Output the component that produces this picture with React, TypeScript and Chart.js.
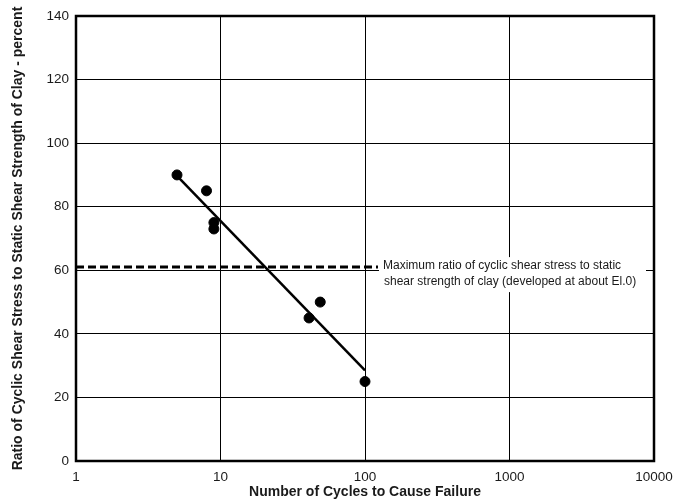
import React, { useEffect, useRef } from 'react';
import { Chart, registerables } from 'chart.js';

Chart.register(...registerables);

const cycles = [5, 8, 9, 9, 41, 49, 100];
const ratios = [90, 85, 75, 73, 45, 50, 25];
const fitCycles = [5, 100];
const fitRatios = [89.7, 28.5];
const maxLineCycles = [1, 123];
const maxLineRatios = [61, 61];
const xTicks = [1, 10, 100, 1000, 10000];
const noteLines = [
  'Maximum ratio of cyclic shear stress to static',
  'shear strength of clay (developed at about El.0)',
];
const xTitle = 'Number of Cycles to Cause Failure';
const yTitle = 'Ratio of Cyclic Shear Stress to Static Shear Strength of Clay - percent';

const FONT = 'Arial, "Liberation Sans", sans-serif';
const TEXT = '#1a1a1a';

const notePlugin = {
  id: 'note',
  afterDatasetsDraw(chart: any) {
    const { ctx, chartArea, scales } = chart;
    const x0 = scales.x.getPixelForValue(maxLineCycles[1]);
    const y0 = scales.y.getPixelForValue(maxLineRatios[1]);
    ctx.save();
    ctx.fillStyle = '#ffffff';
    ctx.fillRect(x0 + 1, y0 - 10, chartArea.right - 9 - x0, 35);
    ctx.fillStyle = TEXT;
    ctx.font = `12px ${FONT}`;
    ctx.textBaseline = 'middle';
    ctx.textAlign = 'left';
    ctx.fillText(noteLines[0], x0 + 5, y0 - 1);
    ctx.fillText(noteLines[1], x0 + 6, y0 + 15);
    ctx.restore();
  },
  afterDraw(chart: any) {
    const { ctx, chartArea } = chart;
    ctx.save();
    ctx.strokeStyle = '#000';
    ctx.lineWidth = 2.5;
    ctx.strokeRect(chartArea.left, chartArea.top, chartArea.right - chartArea.left, chartArea.bottom - chartArea.top);
    ctx.restore();
  },
};

export default function App() {
  const ref = useRef<HTMLCanvasElement | null>(null);
  useEffect(() => {
    if (!ref.current) return;
    const chart = new Chart(ref.current, {
      type: 'scatter',
      data: {
        datasets: [
          {
            label: 'Tests',
            data: cycles.map((c, i) => ({ x: c, y: ratios[i] })),
            backgroundColor: '#000',
            borderColor: '#000',
            pointRadius: 5,
            pointHoverRadius: 5,
            showLine: false,
          },
          {
            label: 'Fit',
            data: fitCycles.map((c, i) => ({ x: c, y: fitRatios[i] })),
            borderColor: '#000',
            borderWidth: 2.5,
            pointRadius: 0,
            showLine: true,
          },
          {
            label: 'Max',
            data: maxLineCycles.map((c, i) => ({ x: c, y: maxLineRatios[i] })),
            borderColor: '#000',
            borderWidth: 3,
            borderDash: [8, 4],
            pointRadius: 0,
            showLine: true,
          },
        ],
      },
      options: {
        animation: false,
        responsive: false,
        maintainAspectRatio: false,
        layout: { padding: { top: 16, right: 23, bottom: 0, left: 0 } },
        plugins: { legend: { display: false }, tooltip: { enabled: false } },
        scales: {
          x: {
            type: 'logarithmic',
            min: 1,
            max: 10000,
            afterBuildTicks: (s: any) => {
              s.ticks = xTicks.map((v) => ({ value: v }));
            },
            afterFit: (s: any) => {
              s.height = 43;
              s.paddingLeft = 0;
              s.paddingRight = 0;
            },
            ticks: {
              callback: (v: any) => String(v),
              color: TEXT,
              font: { family: FONT, size: 13.5 },
              padding: 8,
              maxRotation: 0,
              autoSkip: false,
            },
            grid: { color: '#000', lineWidth: 1, drawTicks: false },
            border: { color: '#000', width: 2 },
            title: {
              display: true,
              text: xTitle,
              color: TEXT,
              font: { family: FONT, size: 14, weight: 'bold' },
              padding: { top: 0, bottom: 3.5 },
            },
          },
          y: {
            type: 'linear',
            min: 0,
            max: 140,
            afterFit: (s: any) => {
              s.width = 76;
              s.paddingTop = 0;
              s.paddingBottom = 0;
            },
            ticks: {
              stepSize: 20,
              color: TEXT,
              font: { family: FONT, size: 13.5 },
              padding: 7,
            },
            grid: { color: '#000', lineWidth: 1, drawTicks: false },
            border: { color: '#000', width: 2 },
            title: {
              display: true,
              text: yTitle,
              color: TEXT,
              font: { family: FONT, size: 14, weight: 'bold' },
              padding: { top: 9.5, bottom: 0 },
            },
          },
        },
      },
      plugins: [notePlugin],
    } as any);
    return () => chart.destroy();
  }, []);
  return (
    <div style={{ position: 'fixed', left: 0, top: 0, width: 677, height: 504, background: '#fff' }}>
      <canvas ref={ref} width={677} height={504} style={{ width: 677, height: 504 }} />
    </div>
  );
}
